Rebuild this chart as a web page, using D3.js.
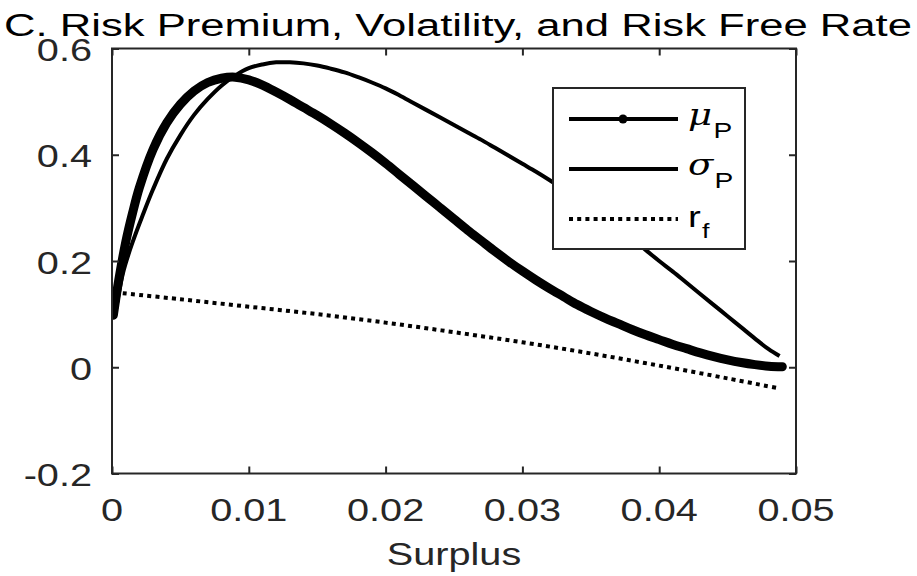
<!DOCTYPE html>
<html><head><meta charset="utf-8">
<script src="https://cdn.jsdelivr.net/npm/d3@7"></script>
<style>
body{margin:0;background:#fff;}
svg{display:block;font-family:"Liberation Sans",Arial,Helvetica,sans-serif;}
</style></head>
<body><svg id="c" width="917" height="576"></svg>
<script>
// ---- data ----
const title = "C. Risk Premium, Volatility, and Risk Free Rate";
const xLabel = "Surplus";
const xTicks = [0, 0.01, 0.02, 0.03, 0.04, 0.05];
const xTickLabels = ["0", "0.01", "0.02", "0.03", "0.04", "0.05"];
const yTicks = [-0.2, 0, 0.2, 0.4, 0.6];
const yTickLabels = ["-0.2", "0", "0.2", "0.4", "0.6"];

const muX = [0.0001,0.0005,0.001,0.0015,0.002,0.003,0.004,0.005,0.006,0.007,0.008,0.009,0.010,0.011,0.012,0.013,0.014,0.015,0.016,0.017,0.018,0.019,0.020,0.021,0.022,0.023,0.024,0.025,0.026,0.027,0.028,0.029,0.030,0.031,0.032,0.033,0.034,0.035,0.036,0.037,0.038,0.039,0.040,0.041,0.042,0.043,0.044,0.045,0.046,0.047,0.048,0.049];
const muP = [0.098,0.165,0.235,0.29,0.338,0.41,0.46,0.495,0.52,0.536,0.544,0.546,0.541,0.531,0.518,0.504,0.489,0.474,0.458,0.441,0.423,0.404,0.384,0.363,0.342,0.321,0.300,0.279,0.258,0.238,0.218,0.199,0.181,0.164,0.148,0.133,0.118,0.105,0.093,0.082,0.071,0.061,0.052,0.043,0.035,0.027,0.020,0.014,0.009,0.005,0.002,0.001];

const sigmaX = [0.0002,0.0008,0.0015,0.0023,0.003,0.004,0.005,0.006,0.007,0.008,0.009,0.010,0.011,0.012,0.013,0.014,0.015,0.016,0.017,0.018,0.019,0.020,0.021,0.022,0.023,0.024,0.025,0.026,0.027,0.028,0.029,0.030,0.031,0.032,0.033,0.034,0.035,0.036,0.037,0.038,0.039,0.040,0.041,0.042,0.043,0.044,0.045,0.046,0.047,0.048,0.0488];
const sigmaP = [0.094,0.177,0.235,0.29,0.335,0.392,0.437,0.475,0.505,0.530,0.549,0.563,0.570,0.574,0.574,0.572,0.568,0.562,0.555,0.546,0.536,0.525,0.512,0.498,0.484,0.470,0.456,0.442,0.428,0.413,0.398,0.383,0.368,0.352,0.335,0.317,0.299,0.280,0.261,0.241,0.221,0.200,0.180,0.159,0.138,0.117,0.096,0.075,0.054,0.034,0.021];

const rfX = [0.0002,0.005,0.010,0.015,0.020,0.025,0.030,0.035,0.040,0.045,0.0488];
const rf  = [0.141,0.128,0.114,0.100,0.084,0.066,0.047,0.026,0.003,-0.021,-0.040];

// ---- layout ----
const L = 112, R = 796, T = 48.5, B = 473.5;
const SX = 1.28; // horizontal text stretch seen in reference
const axisCol = "#262626";
const svg = d3.select("#c");
const x = d3.scaleLinear().domain([0, 0.05]).range([L, R]);
const y = d3.scaleLinear().domain([-0.2, 0.6]).range([B, T]);

function stretchText(sel) {
  sel.each(function(){
    const t = d3.select(this);
    const tx = +t.attr("data-x"), ty = +t.attr("data-y");
    t.attr("transform", `translate(${tx},${ty}) scale(${SX},1)`);
  });
}

// title
svg.append("text").attr("x", 4).attr("y", 35.5).attr("font-size", 31)
  .attr("textLength", 908).attr("lengthAdjust", "spacingAndGlyphs")
  .attr("fill", "#000").text(title);

// curves
const g = svg.append("g");
g.append("clipPath").attr("id","clip").append("rect")
  .attr("x", L).attr("y", T).attr("width", R - L).attr("height", B - T);
const plot = g.append("g").attr("clip-path", "url(#clip)");
const line = d3.line().curve(d3.curveCatmullRom.alpha(0.5));

plot.append("path")
  .attr("d", line(rfX.map((v,i)=>[x(v), y(rf[i])])))
  .attr("fill","none").attr("stroke","#000").attr("stroke-width",4)
  .attr("stroke-dasharray","4,4.2");
plot.append("path")
  .attr("d", line(sigmaX.map((v,i)=>[x(v), y(sigmaP[i])])))
  .attr("fill","none").attr("stroke","#000").attr("stroke-width",4)
  .attr("stroke-linejoin","round");
plot.append("path")
  .attr("d", line(muX.map((v,i)=>[x(v), y(muP[i])])))
  .attr("fill","none").attr("stroke","#000").attr("stroke-width",9)
  .attr("stroke-linecap","round").attr("stroke-linejoin","round");

// axes box
const ax = svg.append("g");
ax.append("rect").attr("x", L).attr("y", T).attr("width", R - L).attr("height", B - T)
  .attr("fill","none").attr("stroke", axisCol).attr("stroke-width", 2);
const tl = 7;
const xAxB = d3.axisBottom(x).tickValues(xTicks).tickSize(-tl).tickFormat("");
const xAxT = d3.axisTop(x).tickValues(xTicks).tickSize(-tl).tickFormat("");
const yAxL = d3.axisLeft(y).tickValues(yTicks).tickSize(-tl).tickFormat("");
const yAxR = d3.axisRight(y).tickValues(yTicks).tickSize(-tl).tickFormat("");
[[xAxB,`translate(0,${B})`],[xAxT,`translate(0,${T})`],[yAxL,`translate(${L},0)`],[yAxR,`translate(${R},0)`]]
  .forEach(([a,tr])=>{
    const gg = ax.append("g").attr("transform", tr).call(a);
    gg.select(".domain").remove();
    gg.selectAll("line").attr("stroke", axisCol).attr("stroke-width", 2);
  });

// tick labels
svg.append("g").selectAll("text").data(xTicks).join("text")
  .attr("data-x", d=>x(d)).attr("data-y", B + 47.5)
  .attr("text-anchor","middle").attr("font-size",31).attr("fill",axisCol)
  .text((d,i)=>xTickLabels[i]).call(stretchText);
svg.append("g").selectAll("text").data(yTicks).join("text")
  .attr("data-x", L - 20).attr("data-y", d=>y(d) + 12.5)
  .attr("text-anchor","end").attr("font-size",31).attr("fill",axisCol)
  .text((d,i)=>yTickLabels[i]).call(stretchText);

// x label
svg.append("text").attr("data-x", (L+R)/2).attr("data-y", 565)
  .attr("text-anchor","middle").attr("font-size",31).attr("fill",axisCol)
  .text(xLabel).call(stretchText);

// legend
const legend = [
  {sym:"μ", sub:"P", type:"marker"},
  {sym:"σ", sub:"P", type:"solid"},
  {sym:"r", sub:"f", type:"dotted"}
];
const lg = svg.append("g");
lg.append("rect").attr("x",553).attr("y",88).attr("width",192).attr("height",161)
  .attr("fill","#fff").attr("stroke",axisCol).attr("stroke-width",2);
const rowY = [119, 169, 219];
legend.forEach((d,i)=>{
  const yy = rowY[i];
  const ln = lg.append("line").attr("x1",569).attr("x2",678).attr("y1",yy).attr("y2",yy)
    .attr("stroke","#000").attr("stroke-width",4);
  if (d.type === "dotted") ln.attr("stroke-dasharray","4,4.2");
  if (d.type === "marker") lg.append("circle").attr("cx",623).attr("cy",yy).attr("r",4.5).attr("fill","#000");
  const t = lg.append("text").attr("data-x",688).attr("data-y", d.type==="dotted" ? yy+8 : yy+6)
    .attr("fill","#000");
  if (d.type === "dotted") {
    t.append("tspan").attr("font-size",30).text(d.sym);
    t.append("tspan").attr("font-size",21).attr("dy",11).attr("dx",1).text(d.sub);
  } else {
    t.append("tspan").attr("font-size",29).attr("font-family","DejaVu Serif").attr("font-style","italic").text(d.sym);
    t.append("tspan").attr("font-size",22).attr("dy",13).attr("dx",1).text(d.sub);
  }
  t.call(stretchText);
});
</script>
</body></html>
